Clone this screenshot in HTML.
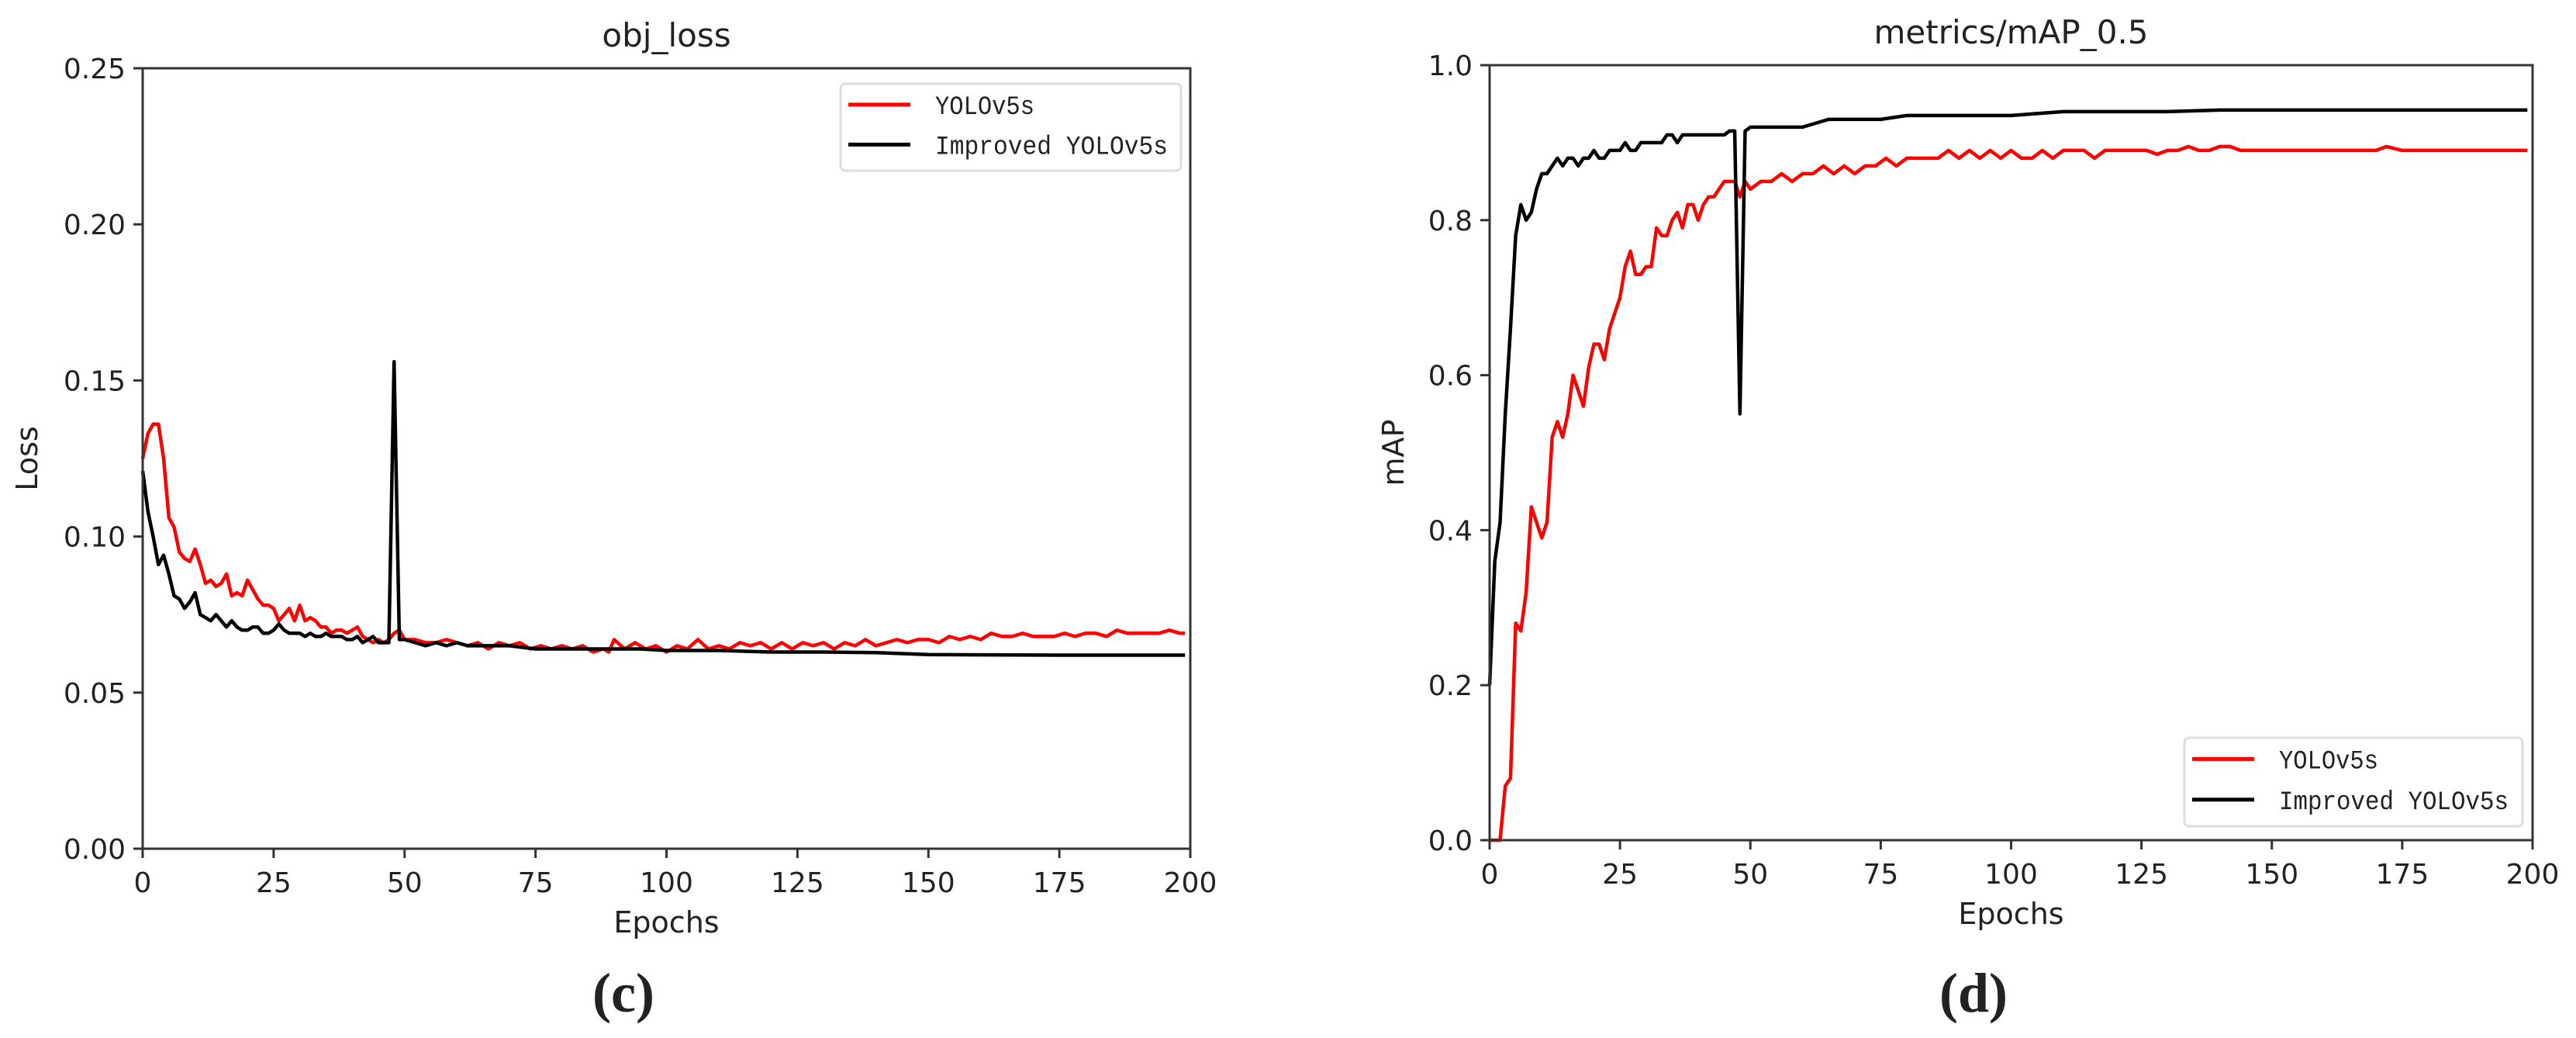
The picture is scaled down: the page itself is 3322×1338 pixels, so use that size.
<!DOCTYPE html>
<html><head><meta charset="utf-8"><style>
html,body{margin:0;padding:0;background:#fff;}
svg{display:block;}
text{fill:#222;}
.sans{font-family:"DejaVu Sans","Liberation Sans",sans-serif;}
.leg{font-family:"Liberation Mono","DejaVu Sans Mono",monospace;}
.cap{font-family:"Liberation Serif","DejaVu Serif",serif;font-weight:bold;}
</style></head><body>
<svg id="fig" width="3322" height="1338" viewBox="0 0 3322 1338"></svg>
<script>
const lossRedEpochs=[0,1,2,3,4,5,6,7,8,9,10,11,12,13,14,15,16,17,18,19,20,21,22,23,24,25,26,27,28,29,30,31,32,33,34,35,36,37,38,39,40,41,42,43,44,45,46,47,48,49,50,52,54,56,58,60,62,64,66,68,70,72,74,76,78,80,82,84,86,88,89,90,92,94,96,98,100,102,104,106,108,110,112,114,116,118,120,122,124,126,128,130,132,134,136,138,140,142,144,146,148,150,152,154,156,158,160,162,164,166,168,170,172,174,176,178,180,182,184,186,188,190,192,194,196,198,199];
const lossRed=[0.125,0.133,0.136,0.136,0.125,0.106,0.103,0.095,0.093,0.092,0.096,0.091,0.085,0.086,0.084,0.085,0.088,0.081,0.082,0.081,0.086,0.083,0.080,0.078,0.078,0.077,0.073,0.075,0.077,0.073,0.078,0.073,0.074,0.073,0.071,0.071,0.069,0.070,0.070,0.069,0.070,0.071,0.068,0.067,0.066,0.067,0.066,0.067,0.069,0.070,0.067,0.067,0.066,0.066,0.067,0.066,0.065,0.066,0.064,0.066,0.065,0.066,0.064,0.065,0.064,0.065,0.064,0.065,0.063,0.064,0.063,0.067,0.064,0.066,0.064,0.065,0.063,0.065,0.064,0.067,0.064,0.065,0.064,0.066,0.065,0.066,0.064,0.066,0.064,0.066,0.065,0.066,0.064,0.066,0.065,0.067,0.065,0.066,0.067,0.066,0.067,0.067,0.066,0.068,0.067,0.068,0.067,0.069,0.068,0.068,0.069,0.068,0.068,0.068,0.069,0.068,0.069,0.069,0.068,0.070,0.069,0.069,0.069,0.069,0.070,0.069,0.069];
const lossBlackEpochs=[0,1,2,3,4,5,6,7,8,9,10,11,12,13,14,15,16,17,18,19,20,21,22,23,24,25,26,27,28,29,30,31,32,33,34,35,36,37,38,39,40,41,42,43,44,45,46,47,48,49,50,52,54,56,58,60,62,64,66,68,70,75,80,85,90,95,100,110,120,130,140,150,160,175,199];
const lossBlack=[0.121,0.108,0.100,0.091,0.094,0.088,0.081,0.080,0.077,0.079,0.082,0.075,0.074,0.073,0.075,0.073,0.071,0.073,0.071,0.070,0.070,0.071,0.071,0.069,0.069,0.070,0.072,0.070,0.069,0.069,0.069,0.068,0.069,0.068,0.068,0.069,0.068,0.068,0.068,0.067,0.067,0.068,0.066,0.067,0.068,0.066,0.066,0.066,0.156,0.067,0.067,0.066,0.065,0.066,0.065,0.066,0.065,0.065,0.065,0.065,0.065,0.064,0.064,0.064,0.064,0.064,0.0635,0.0635,0.063,0.063,0.0628,0.0622,0.0621,0.062,0.062];
const mapRedEpochs=[0,1,2,3,4,5,6,7,8,9,10,11,12,13,14,15,16,17,18,19,20,21,22,23,24,25,26,27,28,29,30,31,32,33,34,35,36,37,38,39,40,41,42,43,44,45,46,47,48,49,50,52,54,56,58,60,62,64,66,68,70,72,74,76,78,80,82,84,86,88,90,92,94,96,98,100,102,104,106,108,110,112,114,116,118,120,122,124,126,128,130,132,134,136,138,140,142,144,146,148,150,155,160,165,170,172,175,180,185,190,195,199];
const mapRed=[0,0,0,0.07,0.08,0.28,0.27,0.32,0.43,0.41,0.39,0.41,0.52,0.54,0.52,0.55,0.60,0.58,0.56,0.61,0.64,0.64,0.62,0.66,0.68,0.70,0.74,0.76,0.73,0.73,0.74,0.74,0.79,0.78,0.78,0.80,0.81,0.79,0.82,0.82,0.80,0.82,0.83,0.83,0.84,0.85,0.85,0.85,0.83,0.85,0.84,0.85,0.85,0.86,0.85,0.86,0.86,0.87,0.86,0.87,0.86,0.87,0.87,0.88,0.87,0.88,0.88,0.88,0.88,0.89,0.88,0.89,0.88,0.89,0.88,0.89,0.88,0.88,0.89,0.88,0.89,0.89,0.89,0.88,0.89,0.89,0.89,0.89,0.89,0.885,0.89,0.89,0.895,0.89,0.89,0.895,0.895,0.89,0.89,0.89,0.89,0.89,0.89,0.89,0.89,0.895,0.89,0.89,0.89,0.89,0.89,0.89];
const mapBlackEpochs=[0,1,2,3,4,5,6,7,8,9,10,11,12,13,14,15,16,17,18,19,20,21,22,23,24,25,26,27,28,29,30,31,32,33,34,35,36,37,38,39,40,41,42,43,44,45,46,47,48,49,50,55,60,65,70,75,80,85,90,95,100,110,120,130,140,150,175,199];
const mapBlack=[0.2,0.36,0.41,0.55,0.66,0.78,0.82,0.80,0.81,0.84,0.86,0.86,0.87,0.88,0.87,0.88,0.88,0.87,0.88,0.88,0.89,0.88,0.88,0.89,0.89,0.89,0.90,0.89,0.89,0.90,0.90,0.90,0.90,0.90,0.91,0.91,0.90,0.91,0.91,0.91,0.91,0.91,0.91,0.91,0.91,0.91,0.915,0.915,0.55,0.915,0.92,0.92,0.92,0.93,0.93,0.93,0.935,0.935,0.935,0.935,0.935,0.94,0.94,0.94,0.942,0.942,0.942,0.942];
const xTicks=[0,25,50,75,100,125,150,175,200];
const lossTicks=[0,0.05,0.10,0.15,0.20,0.25];
const lossTickLabels=["0.00","0.05","0.10","0.15","0.20","0.25"];
const mapTicks=[0,0.2,0.4,0.6,0.8,1.0];
const mapTickLabels=["0.0","0.2","0.4","0.6","0.8","1.0"];

const svg=document.getElementById('fig');
const NS='http://www.w3.org/2000/svg';
function mk(tag,attrs,parent){const e=document.createElementNS(NS,tag);for(const k in attrs)e.setAttribute(k,attrs[k]);(parent||svg).appendChild(e);return e;}

function panel(cfg){
  const g=mk('g',{});
  
  
  const L=cfg.l,R=cfg.r,T=cfg.t,B=cfg.b;
  const sx=v=>L+(v-0)/(200-0)*(R-L);
  const sy=v=>B-(v-cfg.ymin)/(cfg.ymax-cfg.ymin)*(B-T);
  cfg.series.forEach(s=>{
    const d=s.x.map((e,i)=>(i?'L':'M')+sx(e).toFixed(1)+' '+sy(s.y[i]).toFixed(1)).join(' ');
    const p=mk('path',{d:d,fill:'none',stroke:s.color,'stroke-width':4.5,'stroke-linejoin':'round'},g);
    
    
  });
  const fr=mk('rect',{x:L,y:T,width:R-L,height:B-T,fill:'none',stroke:'#333','stroke-width':3},g);
  
  
  xTicks.forEach(v=>{
    mk('line',{x1:sx(v),x2:sx(v),y1:B,y2:B+12,stroke:'#333','stroke-width':3},g);
    const t=mk('text',{x:sx(v),y:B+56,'text-anchor':'middle','font-size':36,class:'sans'},g);
    t.textContent=v;
    
    
  });
  cfg.yt.forEach((v,i)=>{
    mk('line',{x1:L-12,x2:L,y1:sy(v),y2:sy(v),stroke:'#333','stroke-width':3},g);
    const t=mk('text',{x:L-22,y:sy(v)+13,'text-anchor':'end','font-size':36,class:'sans'},g);
    t.textContent=cfg.ytl[i];
    
    
  });
  const ti=mk('text',{x:(L+R)/2,y:T-28,'text-anchor':'middle','font-size':42,class:'sans'},g);
  ti.textContent=cfg.title;
  
  
  const xl=mk('text',{x:(L+R)/2,y:B+108,'text-anchor':'middle','font-size':38,class:'sans'},g);
  xl.textContent='Epochs';
  
  
  const yl=mk('text',{x:cfg.ylx,y:(T+B)/2,'text-anchor':'middle','font-size':38,class:'sans',transform:'rotate(-90 '+cfg.ylx+' '+(T+B)/2+')'},g);
  yl.textContent=cfg.ylabel;
  
  
  const cap=mk('text',{x:cfg.capx,y:1304,'text-anchor':'middle','font-size':72,class:'cap'},g);
  cap.textContent=cfg.caption;
  
  
  const lg=mk('g',{},g);
  
  
  const b=cfg.leg;
  mk('rect',{x:b.x,y:b.y,width:b.w,height:b.h,rx:6,fill:'#fff',stroke:'#ddd','stroke-width':3},lg);
  cfg.series.forEach((s,i)=>{
    const yy=b.y+b.h*(i?0.70:0.24);
    mk('line',{x1:b.x+10,x2:b.x+90,y1:yy,y2:yy,stroke:s.color,'stroke-width':5},lg);
    const t=mk('text',{x:b.x+122,y:yy+12,'font-size':34,class:'leg',textLength:s.tl,lengthAdjust:'spacingAndGlyphs'},lg);
    t.textContent=s.label;
    
    
  });
}
panel({name:'obj-loss-chart',l:184,r:1535,t:88,b:1094,ymin:0,ymax:0.25,yt:lossTicks,ytl:lossTickLabels,title:'obj_loss',ylabel:'Loss',ylx:48,caption:'(c)',capx:804,
  leg:{x:1084,y:108,w:439,h:112},
  series:[{name:'yolov5s-loss-line',label:'YOLOv5s',tl:128,color:'#ff0000',x:lossRedEpochs,y:lossRed},{name:'improved-loss-line',label:'Improved YOLOv5s',tl:300,color:'#000',x:lossBlackEpochs,y:lossBlack}]});
panel({name:'map-chart',l:1921,r:3266,t:84,b:1083,ymin:0,ymax:1.0,yt:mapTicks,ytl:mapTickLabels,title:'metrics/mAP_0.5',ylabel:'mAP',ylx:1810,caption:'(d)',capx:2545,
  leg:{x:2817,y:951,w:436,h:114},
  series:[{name:'yolov5s-map-line',label:'YOLOv5s',tl:128,color:'#ff0000',x:mapRedEpochs,y:mapRed},{name:'improved-map-line',label:'Improved YOLOv5s',tl:296,color:'#000',x:mapBlackEpochs,y:mapBlack}]});
</script>
</body></html>
